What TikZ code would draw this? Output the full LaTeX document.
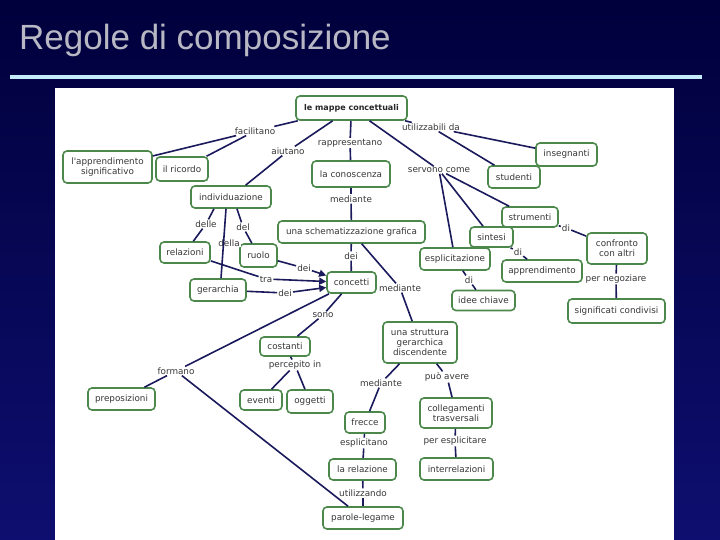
\documentclass[tikz,border=0pt]{standalone}
\usepackage{fontspec}
\newfontfamily\mapfont{DejaVu Sans}
\newfontfamily\titlefont{Liberation Sans}
\usetikzlibrary{arrows.meta}
\definecolor{bgtop}{RGB}{0,0,60}
\definecolor{bgbot}{RGB}{14,14,112}
\definecolor{boxgreen}{RGB}{76,136,76}
\definecolor{linenavy}{RGB}{26,26,92}
\definecolor{txtgray}{RGB}{55,55,55}
\definecolor{titlegray}{RGB}{184,184,196}
\definecolor{rulecyan}{RGB}{196,236,252}
\tikzset{
  box/.style={draw=boxgreen, line width=1.6pt, rounded corners=4pt, fill=white,
    inner sep=1pt, align=center, text=txtgray, font=\mapfont\fontsize{8.8}{10.2}\selectfont},
  lbl/.style={inner sep=1pt, fill=white, text=txtgray, font=\mapfont\fontsize{8.8}{10.2}\selectfont},
  con/.style={draw=linenavy, line width=1.6pt},
  arr/.style={con, -{Triangle[length=7pt,width=7pt]}}
}
\begin{document}
\begin{tikzpicture}[x=1pt,y=-1pt]
\useasboundingbox (0,0) rectangle (720,540);
\shade[top color=bgtop, bottom color=bgbot] (0,0) rectangle (720,540);
% title
\node[anchor=base west, inner sep=0pt, text=titlegray, font=\titlefont\fontsize{35}{40}\selectfont] (title) at (19,50) {Regole di composizione};
\fill[rulecyan] (10,75) rectangle (702,79);
% panel
\fill[white] (55,88) rectangle (674,540);

% concept boxes
\node[box, minimum width=111pt, minimum height=24pt, font=\mapfont\bfseries\fontsize{8}{10}\selectfont, text=black!85] (M) at (351.5,108) {le mappe concettuali};
\node[box, minimum width=89pt, minimum height=32pt] (app) at (107.5,167) {l'apprendimento\\significativo};
\node[box, minimum width=52pt, minimum height=24pt] (ric) at (182,169) {il ricordo};
\node[box, minimum width=80pt, minimum height=22pt] (indiv) at (231,197) {individuazione};
\node[box, minimum width=78pt, minimum height=26pt] (conosc) at (351,174) {la conoscenza};
\node[box, minimum width=61pt, minimum height=23pt] (insegn) at (566.5,154.5) {insegnanti};
\node[box, minimum width=52pt, minimum height=22pt] (stud) at (514,177) {studenti};
\node[box, minimum width=56pt, minimum height=20pt] (strum) at (530,217) {strumenti};
\node[box, minimum width=43pt, minimum height=20pt] (sint) at (491.5,237) {sintesi};
\node[box, minimum width=70pt, minimum height=22pt] (espl) at (455,259) {esplicitazione};
\node[box, minimum width=80pt, minimum height=22pt] (appr) at (542,271) {apprendimento};
\node[box, minimum width=63pt, minimum height=20pt] (idee) at (483.5,300.5) {idee chiave};
\node[box, minimum width=60pt, minimum height=31pt] (confr) at (617,248.5) {confronto\\con altri};
\node[box, minimum width=97pt, minimum height=24pt] (signif) at (616.5,311) {significati condivisi};
\node[box, minimum width=147pt, minimum height=22pt] (schem) at (351.5,232) {una schematizzazione grafica};
\node[box, minimum width=50pt, minimum height=21pt] (rel) at (185,252.5) {relazioni};
\node[box, minimum width=37pt, minimum height=23pt] (ruolo) at (258.5,255.5) {ruolo};
\node[box, minimum width=56pt, minimum height=22pt] (ger) at (218,290) {gerarchia};
\node[box, minimum width=49pt, minimum height=21pt] (conc) at (351.5,282.5) {concetti};
\node[box, minimum width=50pt, minimum height=19pt] (cost) at (285,346.5) {costanti};
\node[box, minimum width=67pt, minimum height=22pt] (prep) at (121.5,399) {preposizioni};
\node[box, minimum width=42pt, minimum height=20pt] (eventi) at (261,400) {eventi};
\node[box, minimum width=46pt, minimum height=23pt] (ogg) at (310,401.5) {oggetti};
\node[box, minimum width=74pt, minimum height=41pt] (strutt) at (420,342.5) {una struttura\\gerarchica\\discendente};
\node[box, minimum width=40pt, minimum height=21pt] (frecce) at (365,422.5) {frecce};
\node[box, minimum width=72pt, minimum height=30pt] (colleg) at (456,413) {collegamenti\\trasversali};
\node[box, minimum width=67pt, minimum height=21pt] (larel) at (362.5,469.5) {la relazione};
\node[box, minimum width=73pt, minimum height=22pt] (interr) at (456.5,469) {interrelazioni};
\node[box, minimum width=80pt, minimum height=22pt] (parole) at (363,518) {parole-legame};

% linking labels
\node[lbl] (Lfac) at (255,131) {facilitano};
\node[lbl] (Laiu) at (288,151) {aiutano};
\node[lbl] (Lrap) at (350,143) {rappresentano};
\node[lbl] (Luti) at (431,127) {utilizzabili da};
\node[lbl] (Lser) at (439,170) {servono come};
\node[lbl] (Lmed1) at (351,199) {mediante};
\node[lbl] (Ldelle) at (206,224) {delle};
\node[lbl] (Ldella) at (229,243) {della};
\node[lbl] (Ldel) at (243,227) {del};
\node[lbl] (Ldeir) at (304,268) {dei};
\node[lbl] (Ltra) at (266,279) {tra};
\node[lbl] (Ldeig) at (285,293) {dei};
\node[lbl] (Ldeis) at (351,256) {dei};
\node[lbl] (Lmed2) at (400,288) {mediante};
\node[lbl] (Ldi1) at (566,228) {di};
\node[lbl] (Ldi2) at (518,252) {di};
\node[lbl] (Ldi3) at (469,280) {di};
\node[lbl] (Lneg) at (616,279) {per negoziare};
\node[lbl] (Lsono) at (323,315) {sono};
\node[lbl] (Lform) at (176,371) {formano};
\node[lbl] (Lperc) at (295,365) {percepito in};
\node[lbl] (Lmed3) at (381,383) {mediante};
\node[lbl] (Lpuo) at (447,377) {può avere};
\node[lbl] (Lespl) at (364,443) {esplicitano};
\node[lbl] (Lperesp) at (455,441) {per esplicitare};
\node[lbl] (Lutil) at (363,493) {utilizzando};

% connectors
\draw[con] (M) -- (Lfac);
\draw[con] (Lfac) -- (app);
\draw[con] (Lfac) -- (ric);
\draw[con] (M) -- (Laiu);
\draw[con] (Laiu) -- (indiv);
\draw[con] (M) -- (Lrap);
\draw[con] (Lrap) -- (conosc);
\draw[con] (conosc) -- (Lmed1);
\draw[con] (Lmed1) -- (schem);
\draw[con] (M) -- (Luti);
\draw[con] (Luti) -- (insegn);
\draw[con] (Luti) -- (stud);
\draw[con] (M) -- (Lser);
\draw[con] (Lser) -- (strum);
\draw[con] (Lser) -- (sint);
\draw[con] (Lser) -- (espl);
\draw[con] (strum) -- (Ldi1);
\draw[con] (Ldi1) -- (confr);
\draw[con] (sint) -- (Ldi2);
\draw[con] (Ldi2) -- (appr);
\draw[con] (espl) -- (Ldi3);
\draw[con] (Ldi3) -- (idee);
\draw[con] (confr) -- (Lneg);
\draw[con] (Lneg) -- (signif);
\draw[con] ([xshift=-17pt]indiv.south) -- (Ldelle);
\draw[con] (Ldelle) -- (rel);
\draw[con] ([xshift=-5pt]indiv.south) -- ([xshift=3pt]ger.north);
\draw[con] ([xshift=6pt]indiv.south) -- (Ldel);
\draw[con] (Ldel) -- (ruolo);
\draw[con] (ruolo) -- (Ldeir);
\draw[arr] (Ldeir) -- ([yshift=7pt]conc.west);
\draw[con] (rel) -- (Ltra);
\draw[arr] (Ltra) -- ([yshift=1pt]conc.west);
\draw[con] (ger) -- (Ldeig);
\draw[arr] (Ldeig) -- ([yshift=-5pt]conc.west);
\draw[con] (schem) -- (Ldeis);
\draw[con] (Ldeis) -- (conc);
\draw[con] (schem) -- (Lmed2);
\draw[con] (Lmed2) -- (strutt);
\draw[con] (conc) -- (Lsono);
\draw[con] (Lsono) -- (cost);
\draw[con] (conc) -- (Lform);
\draw[con] (Lform) -- (prep);
\draw[con] (Lform) -- (parole);
\draw[con] (cost) -- (Lperc);
\draw[con] (Lperc) -- (eventi);
\draw[con] (Lperc) -- (ogg);
\draw[con] (strutt) -- (Lmed3);
\draw[con] (Lmed3) -- (frecce);
\draw[con] (strutt) -- (Lpuo);
\draw[con] (Lpuo) -- (colleg);
\draw[con] (frecce) -- (Lespl);
\draw[con] (Lespl) -- (larel);
\draw[con] (colleg) -- (Lperesp);
\draw[con] (Lperesp) -- (interr);
\draw[con] (larel) -- (Lutil);
\draw[con] (Lutil) -- (parole);
\end{tikzpicture}
\end{document}
